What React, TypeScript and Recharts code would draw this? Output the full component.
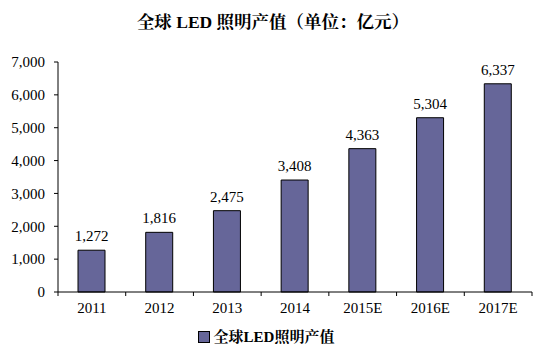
import {
  BarChart,
  Bar,
  XAxis,
  YAxis,
  Legend,
  LabelList,
} from "recharts";

const years = ["2011", "2012", "2013", "2014", "2015E", "2016E", "2017E"];
const output = [1272, 1816, 2475, 3408, 4363, 5304, 6337];
const yTicks = [0, 1000, 2000, 3000, 4000, 5000, 6000, 7000];

const data = years.map((year, i) => ({ year, value: output[i] }));

const serif = '"Liberation Serif", "Times New Roman", "Noto Serif CJK SC", "Noto Sans CJK SC", serif';
const fmt = (v: number) => v.toLocaleString("en-US");

function XTick(props: any) {
  const { x, y, payload, index, width, visibleTicksCount } = props;
  const band = width / visibleTicksCount;
  return (
    <g>
      <line x1={x - band / 2} x2={x - band / 2} y1={y - 8} y2={y - 4} stroke="#000" />
      {index === visibleTicksCount - 1 && (
        <line x1={x + band / 2} x2={x + band / 2} y1={y - 8} y2={y - 4} stroke="#000" />
      )}
      <text x={x} y={y + 13} textAnchor="middle" fontSize={15} fontFamily={serif} fill="#000">
        {payload.value}
      </text>
    </g>
  );
}

function LegendBox() {
  return (
    <div style={{ textAlign: "center", fontFamily: serif, fontSize: 15, fontWeight: "bold", lineHeight: "17px", marginTop: 7 }}>
      <span style={{ display: "inline-block", width: 10, height: 10, background: "#666699", border: "1px solid #000", marginRight: 4, verticalAlign: "-1px" }} />
      全球LED照明产值
    </div>
  );
}

export default function App() {
  return (
    <div style={{ position: "relative", width: 546, height: 352, background: "#fff" }}>
      <style>{`body{margin:0}`}</style>
      <div
        style={{
          position: "absolute",
          top: 8,
          left: 0,
          width: 546,
          textAlign: "center",
          fontFamily: serif,
          fontSize: 17.5,
          fontWeight: "bold",
        }}
      >
        全球 LED 照明产值（单位：亿元）
      </div>
      <BarChart
        width={546}
        height={352}
        data={data}
        margin={{ top: 62, right: 14, left: 0, bottom: 0 }}
        barSize={27}
      >
        <YAxis
          domain={[0, 7000]}
          ticks={yTicks}
          tickFormatter={fmt}
          width={58}
          tickSize={4}
          tickMargin={9}
          axisLine={{ stroke: "#000" }}
          tickLine={{ stroke: "#000" }}
          tick={{ fill: "#000", fontSize: 15, fontFamily: serif }}
          interval={0}
        />
        <XAxis
          dataKey="year"
          height={30}
          axisLine={{ stroke: "#000" }}
          tickLine={false}
          tick={<XTick />}
          interval={0}
        />
        <Legend verticalAlign="bottom" height={30} content={<LegendBox />} />
        <Bar dataKey="value" fill="#666699" stroke="#000" strokeWidth={1} isAnimationActive={false}>
          <LabelList
            dataKey="value"
            position="top"
            offset={9}
            formatter={(v: any) => fmt(Number(v))}
            style={{ fill: "#000", fontSize: 15, fontFamily: serif }}
          />
        </Bar>
      </BarChart>
    </div>
  );
}
